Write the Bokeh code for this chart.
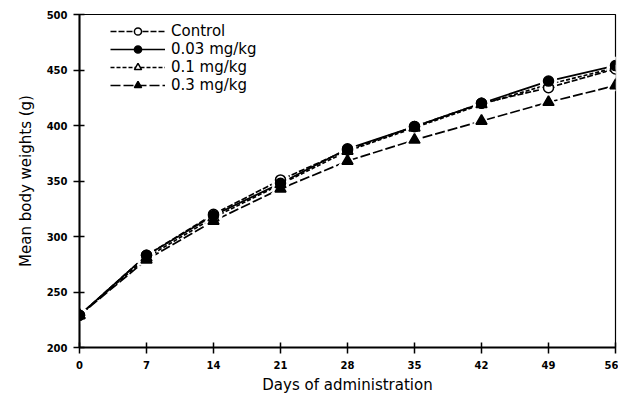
from bokeh.plotting import figure
from bokeh.models import FixedTicker, Legend, LegendItem, Range1d
from bokeh.embed import file_html
from bokeh.resources import INLINE

days = [0, 7, 14, 21, 28, 35, 42, 49, 56]
control = [229, 283, 320, 351, 378, 399, 420, 434, 451]
dose_003 = [229, 283, 319, 348, 379, 399, 420, 440, 454]
dose_01 = [229, 281, 317, 347, 377, 398, 419, 437, 452]
dose_03 = [229, 279, 314, 343, 368, 387, 404, 421, 436]
x_ticks = [0, 7, 14, 21, 28, 35, 42, 49, 56]
y_ticks = [200, 250, 300, 350, 400, 450, 500]

FONT = "DejaVu Sans"

p = figure(width=618, height=400, output_backend="svg", toolbar_location=None,
           x_range=Range1d(0, 56), y_range=Range1d(200, 500),
           min_border_left=79, min_border_top=14, min_border_bottom=53,
           min_border_right=3)
p.grid.visible = False
p.outline_line_color = "black"
p.outline_line_width = 1.2
p.background_fill_color = "white"
p.border_fill_color = "white"

for ax in (p.xaxis[0], p.yaxis[0]):
    ax.axis_line_width = 2
    ax.axis_line_color = "black"
    ax.major_tick_in = 5
    ax.major_tick_out = 6
    ax.major_tick_line_width = 1.5
    ax.minor_tick_line_color = None
    ax.major_label_text_font = FONT
    ax.major_label_text_font_size = "10px"
    ax.major_label_text_font_style = "bold"
    ax.major_label_text_color = "black"
    ax.axis_label_text_font = FONT
    ax.axis_label_text_font_size = "15px"
    ax.axis_label_text_font_style = "normal"
    ax.axis_label_text_color = "black"

p.xaxis.ticker = FixedTicker(ticks=x_ticks)
p.yaxis.ticker = FixedTicker(ticks=y_ticks)
p.xaxis.axis_label = "Days of administration"
p.yaxis.axis_label = "Mean body weights (g)"
p.xaxis.major_label_standoff = 7
p.yaxis.major_label_standoff = 6
p.xaxis.axis_label_standoff = 4
p.yaxis.axis_label_standoff = 9

series = [
    ("Control", control, "circle", "white", "6 2", 10),
    ("0.03 mg/kg", dose_003, "circle", "black", "solid", 10),
    ("0.1 mg/kg", dose_01, "triangle", "white", "4 2", 11),
    ("0.3 mg/kg", dose_03, "triangle", "black", "10 3", 11),
]

lines = []
for name, ys, marker, fill, dash, size in series:
    lines.append(p.line(days, ys, line_color="black", line_width=1.7, line_dash=dash))

# white halos to break the lines near the markers
for name, ys, marker, fill, dash, size in series:
    p.scatter(days, ys, marker=marker, size=size + 7, fill_color="white",
              line_color="white")

order = [2, 0, 3, 1]
marks = {}
for i in order:
    name, ys, marker, fill, dash, size = series[i]
    marks[i] = p.scatter(days, ys, marker=marker, size=size, fill_color=fill,
                         line_color="black", line_width=1.5)

items = []
for i, (name, ys, marker, fill, dash, size) in enumerate(series):
    items.append(LegendItem(label=name, renderers=[lines[i], marks[i]]))

legend = Legend(items=items, location=(31, 253))
legend.border_line_color = None
legend.background_fill_alpha = 0
legend.label_text_font = FONT
legend.label_text_font_size = "15px"
legend.label_text_color = "black"
legend.glyph_width = 55
legend.glyph_height = 18
legend.label_height = 18
legend.spacing = 0
legend.padding = 0
legend.margin = 0
legend.label_standoff = 6
p.add_layout(legend)

open("out.html", "w").write(file_html(p, INLINE))
